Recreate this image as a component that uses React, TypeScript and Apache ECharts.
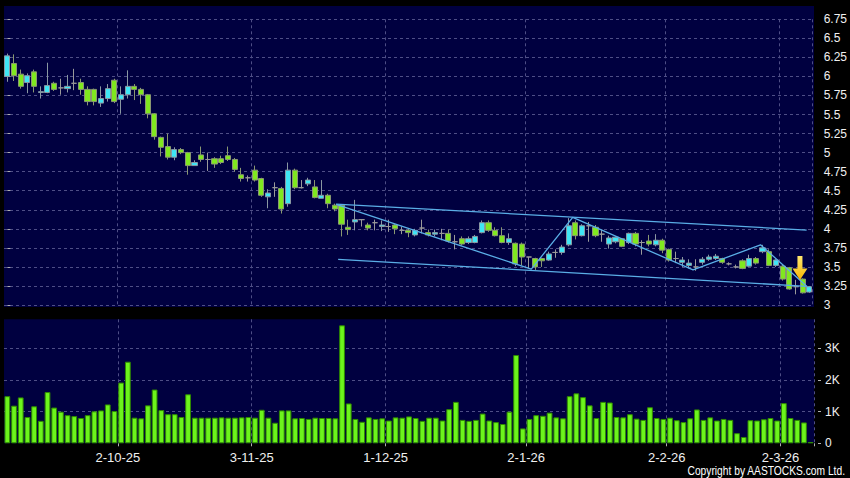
import React, { useEffect, useRef } from 'react';
import * as echarts from 'echarts';

// Trading days shown on the category axis (day numbers per month)
const sepDays = [8, 9, 10, 11, 12, 15, 16, 17, 18, 19, 22, 23, 24, 25, 26, 29, 30];
const octDays = [2, 3, 6, 8, 9, 10, 13, 14, 15, 16, 17, 20, 21, 22, 23, 24, 27, 28, 30, 31];
const novDays = [3, 4, 5, 6, 7, 10, 11, 12, 13, 14, 17, 18, 19, 20, 21, 24, 25, 26, 27, 28];
const decDays = [1, 2, 3, 4, 5, 8, 9, 10, 11, 12, 15, 16, 17, 18, 19, 22, 23, 24, 29, 30, 31];
const janDays = [2, 5, 6, 7, 8, 9, 12, 13, 14, 15, 16, 19, 20, 21, 22, 23, 26, 27, 28, 29, 30];
const febDays = [2, 3, 4, 5, 6, 9, 10, 11, 12, 13, 16, 20, 23, 24, 25, 26, 27];
const marDays = [2, 3, 4, 5, 6];
const months: [number[], number, number][] = [
  [sepDays, 9, 25], [octDays, 10, 25], [novDays, 11, 25], [decDays, 12, 25],
  [janDays, 1, 26], [febDays, 2, 26], [marDays, 3, 26],
];

const opens = [
  6.00, 6.17, 6.03, 5.92, 6.06, 5.79, 5.79, 5.91, 5.85, 5.84,
  5.91, 5.92, 5.83, 5.83, 5.65, 5.71, 5.95, 5.70, 5.76, 5.87,
  5.83, 5.76, 5.51, 5.20, 5.08, 4.94, 5.04, 5.00, 4.83, 4.97,
  4.91, 4.92, 4.92, 4.96, 4.91, 4.71, 4.67, 4.77, 4.66, 4.42,
  4.54, 4.53, 4.33, 4.77, 4.54, 4.59, 4.55, 4.40, 4.44, 4.31,
  4.31, 4.02, 4.09, 4.12, 4.05, 4.08, 4.03, 4.03, 4.05, 3.98,
  3.98, 3.92, 4.01, 3.95, 3.93, 3.94, 3.94, 3.83, 3.87, 3.82,
  3.82, 3.95, 4.08, 3.98, 3.91, 3.82, 3.81, 3.80, 3.63, 3.61,
  3.61, 3.59, 3.69, 3.69, 3.79, 4.08, 3.91, 4.04, 4.02, 3.93,
  3.80, 3.83, 3.87, 3.82, 3.94, 3.82, 3.84, 3.79, 3.85, 3.73,
  3.61, 3.56, 3.52, 3.50, 3.56, 3.60, 3.61, 3.61, 3.54, 3.50,
  3.58, 3.51, 3.61, 3.70, 3.70, 3.52, 3.51, 3.49, 3.24, 3.34,
  3.17,
];
const closes = [
  6.27, 6.01, 5.87, 6.01, 5.87, 5.80, 5.88, 5.83, 5.85, 5.87,
  5.91, 5.83, 5.67, 5.67, 5.71, 5.84, 5.67, 5.76, 5.87, 5.83,
  5.76, 5.51, 5.21, 5.07, 4.94, 5.04, 5.00, 4.83, 4.87, 4.91,
  4.91, 4.85, 4.87, 4.91, 4.78, 4.66, 4.67, 4.64, 4.44, 4.47,
  4.54, 4.26, 4.77, 4.54, 4.54, 4.64, 4.41, 4.44, 4.33, 4.26,
  4.06, 3.99, 4.12, 4.12, 4.01, 4.08, 4.05, 4.03, 4.00, 3.98,
  3.95, 3.98, 4.01, 3.92, 3.95, 3.94, 3.84, 3.83, 3.80, 3.87,
  3.90, 4.08, 3.98, 3.91, 3.82, 3.87, 3.54, 3.63, 3.63, 3.50,
  3.58, 3.67, 3.69, 3.76, 4.04, 3.91, 4.04, 4.04, 3.91, 3.93,
  3.88, 3.89, 3.77, 3.94, 3.80, 3.82, 3.80, 3.85, 3.72, 3.59,
  3.61, 3.59, 3.55, 3.50, 3.60, 3.63, 3.64, 3.56, 3.54, 3.50,
  3.48, 3.61, 3.55, 3.75, 3.52, 3.59, 3.34, 3.21, 3.24, 3.16,
  3.24,
];
const lows = [
  5.93, 5.94, 5.84, 5.78, 5.79, 5.71, 5.78, 5.81, 5.76, 5.79,
  5.82, 5.76, 5.62, 5.62, 5.60, 5.67, 5.65, 5.51, 5.71, 5.69,
  5.64, 5.45, 5.17, 4.95, 4.91, 4.90, 4.98, 4.71, 4.83, 4.88,
  4.76, 4.80, 4.85, 4.89, 4.75, 4.62, 4.62, 4.62, 4.42, 4.27,
  4.42, 4.20, 4.29, 4.52, 4.53, 4.56, 4.40, 4.40, 4.27, 4.23,
  3.90, 3.92, 3.98, 4.03, 3.98, 3.98, 3.97, 3.96, 3.93, 3.93,
  3.89, 3.90, 3.94, 3.90, 3.90, 3.85, 3.82, 3.73, 3.78, 3.80,
  3.81, 3.94, 3.96, 3.90, 3.81, 3.79, 3.51, 3.52, 3.48, 3.46,
  3.50, 3.58, 3.62, 3.66, 3.77, 3.86, 3.90, 3.83, 3.89, 3.83,
  3.74, 3.81, 3.76, 3.80, 3.77, 3.66, 3.77, 3.77, 3.68, 3.57,
  3.55, 3.50, 3.48, 3.45, 3.53, 3.58, 3.59, 3.54, 3.52, 3.48,
  3.47, 3.50, 3.53, 3.68, 3.51, 3.50, 3.32, 3.20, 3.14, 3.15,
  3.16,
];
const highs = [
  6.30, 6.29, 6.09, 6.04, 6.09, 5.87, 6.18, 5.93, 5.97, 6.02,
  6.10, 5.97, 5.87, 5.84, 5.87, 5.90, 5.97, 5.87, 6.08, 5.90,
  5.85, 5.77, 5.52, 5.21, 5.25, 5.07, 5.06, 5.01, 4.90, 5.08,
  5.00, 4.94, 4.96, 5.08, 4.93, 4.80, 4.70, 4.83, 4.67, 4.52,
  4.61, 4.55, 4.87, 4.79, 4.64, 4.67, 4.64, 4.64, 4.46, 4.33,
  4.32, 4.12, 4.38, 4.12, 4.08, 4.12, 4.11, 4.12, 4.06, 4.03,
  4.01, 4.00, 4.12, 3.99, 3.99, 4.00, 3.99, 3.92, 3.90, 3.90,
  3.92, 4.11, 4.11, 4.02, 4.02, 3.94, 3.82, 3.82, 3.63, 3.62,
  3.62, 3.70, 3.73, 3.79, 4.14, 4.11, 4.06, 4.09, 4.05, 3.99,
  3.91, 3.90, 3.88, 3.95, 3.96, 3.85, 3.92, 3.93, 3.87, 3.74,
  3.70, 3.63, 3.60, 3.60, 3.63, 3.66, 3.67, 3.62, 3.56, 3.53,
  3.60, 3.66, 3.63, 3.79, 3.73, 3.60, 3.53, 3.50, 3.33, 3.35,
  3.25,
];
const volumes = [
  1490, 1190, 1450, 830, 1170, 710, 1620, 1130, 1000, 890,
  860, 800, 890, 1010, 1040, 1230, 1020, 1920, 2580, 810,
  790, 1200, 1700, 1050, 920, 920, 830, 1550, 810, 810,
  810, 810, 820, 810, 810, 820, 830, 810, 1060, 810,
  650, 1040, 1040, 790, 800, 770, 810, 800, 800, 790,
  3730, 1260, 770, 680, 820, 770, 790, 720, 820, 810,
  850, 800, 710, 810, 810, 720, 1080, 1310, 740, 710,
  740, 940, 720, 670, 610, 1000, 2790, 470, 770, 890,
  870, 970, 820, 790, 1490, 1580, 1460, 1200, 800, 1310,
  1290, 830, 820, 920, 780, 740, 1140, 800, 770, 810,
  730, 670, 790, 1070, 740, 820, 720, 770, 740, 320,
  200, 730, 720, 760, 800, 720, 1270, 800, 740, 660,
  40,
];

// Trend lines (x in bar-index units, y in price)
const upperX = [49.2, 119.6];
const upperY = [4.325, 3.984];
const lowerX = [49.5, 119.6];
const lowerY = [3.60, 3.245];
const zigzagX = [49.2, 78.4, 84.6, 102.6, 112.7, 119.7];
const zigzagY = [4.32, 3.47, 4.15, 3.46, 3.79, 3.24];
const arrowX = [118.6];
const arrowY = [3.486];

const priceMin = 3;
const priceMax = 6.75;
const priceStep = 0.25;
const volMax = 3920;
const volStep = 1000;
const volTicks = [0, 1000, 2000, 3000];

const NAVY = '#000040';
const GRID_LINE = { color: '#4e4e86', type: [3, 3] as any, width: 1 };
const FONT = '"Liberation Sans", Arial, sans-serif';
const LINE_COLOR = '#5aaee6';

const categories: string[] = [];
const monthStartIdx: number[] = [];
months.forEach(([days, m, yy], mi) => {
  days.forEach((d, di) => {
    if (di === 0 && mi > 0) monthStartIdx.push(categories.length);
    categories.push(`${d}-${m}-${yy}`);
  });
});
const isMonthStart = (i: number) => monthStartIdx.indexOf(i) >= 0;

export default function App() {
  const ref = useRef<HTMLDivElement>(null);
  useEffect(() => {
    document.body.style.margin = '0';
    document.body.style.background = '#000';
    const chart = echarts.init(ref.current!, null, { renderer: 'svg' });
    const candles = opens.map((o, i) => [o, closes[i], lows[i], highs[i]]);
    const pair = (xs: number[], ys: number[]) => xs.map((x, i) => [x, ys[i]]);
    const trend = (name: string, xs: number[], ys: number[]) => ({
      name,
      type: 'line',
      xAxisIndex: 2,
      yAxisIndex: 0,
      data: pair(xs, ys),
      symbol: 'none',
      silent: true,
      lineStyle: { color: LINE_COLOR, width: 1.3 },
      z: 5,
    });
    chart.setOption({
      animation: false,
      backgroundColor: '#000',
      graphic: [
        {
          type: 'rect',
          z: -10,
          silent: true,
          shape: { x: 4, y: 6, width: 810, height: 301 },
          style: { fill: NAVY },
        },
        {
          type: 'text',
          x: 845,
          y: 471,
          scaleX: 0.82,
          silent: true,
          style: {
            text: 'Copyright by AASTOCKS.com Ltd.',
            fill: '#ffffff',
            font: '12.5px "Liberation Sans", Arial, sans-serif',
            textAlign: 'right',
            textVerticalAlign: 'middle',
          },
        },
      ],
      grid: [
        { left: 4, right: 36, top: 19.3, bottom: 173 },
        { left: 4, right: 36, top: 319.3, bottom: 34.7, show: true, backgroundColor: NAVY, borderWidth: 0 },
      ],
      xAxis: [
        {
          type: 'category',
          gridIndex: 0,
          data: categories,
          boundaryGap: true,
          axisLine: { show: false },
          axisTick: { show: false },
          axisLabel: { show: false },
          splitLine: { show: true, interval: (i: number) => isMonthStart(i), lineStyle: GRID_LINE },
        },
        {
          type: 'category',
          gridIndex: 1,
          data: categories,
          boundaryGap: true,
          offset: 3,
          axisLine: { show: false },
          axisTick: { show: true, interval: (i: number) => isMonthStart(i), length: 3, lineStyle: { color: '#b0b0b0' } },
          axisLabel: {
            interval: (i: number) => isMonthStart(i),
            color: '#f0f0f0',
            fontSize: 13,
            fontFamily: FONT,
            margin: 5,
            padding: [0, 6.7, 0, 0],
          },
          splitLine: { show: true, interval: (i: number) => isMonthStart(i), lineStyle: GRID_LINE },
        },
        { type: 'value', gridIndex: 0, min: -0.5, max: categories.length - 0.5, show: false },
      ],
      yAxis: [
        {
          type: 'value',
          gridIndex: 0,
          position: 'right',
          min: priceMin,
          max: priceMax,
          interval: priceStep,
          offset: 4,
          axisLine: { show: false },
          axisTick: { show: true, length: 3, lineStyle: { color: '#b0b0b0' } },
          axisLabel: {
            color: '#f0f0f0',
            fontSize: 12,
            fontFamily: FONT,
            margin: 7,
            formatter: (v: number) => String(+v.toFixed(2)),
          },
          splitLine: { show: true, lineStyle: GRID_LINE },
        },
        {
          type: 'value',
          gridIndex: 1,
          position: 'right',
          min: 0,
          max: volMax,
          interval: volStep,
          offset: 4,
          axisLine: { show: false },
          axisTick: { show: true, length: 3, customValues: volTicks, lineStyle: { color: '#b0b0b0' } },
          axisLabel: {
            color: '#f0f0f0',
            fontSize: 12,
            fontFamily: FONT,
            margin: 7,
            customValues: volTicks,
            formatter: (v: number) => (v === 0 ? '0' : v / 1000 + 'K'),
          },
          splitLine: { show: true, showMinLine: false, lineStyle: GRID_LINE },
        },
      ],
      series: [
        {
          type: 'candlestick',
          xAxisIndex: 0,
          yAxisIndex: 0,
          data: candles,
          barWidth: '84%',
          itemStyle: {
            color: '#3fe6f5',
            color0: '#80e81f',
            borderColor: '#8a98a2',
            borderColor0: '#8a9872',
            borderColorDoji: '#9a9a9a',
            borderWidth: 1,
          },
          z: 3,
        },
        {
          type: 'bar',
          xAxisIndex: 1,
          yAxisIndex: 1,
          data: volumes,
          barCategoryGap: '14%',
          itemStyle: { color: '#6cf41c', borderColor: '#2f8a00', borderWidth: 1 },
        },
        trend('upper', upperX, upperY),
        trend('lower', lowerX, lowerY),
        trend('zigzag', zigzagX, zigzagY),
        {
          type: 'scatter',
          xAxisIndex: 2,
          yAxisIndex: 0,
          data: pair(arrowX, arrowY),
          symbol: 'path://M5,0 L10,0 L10,12 L15,12 L7.5,23 L0,12 L5,12 Z',
          symbolSize: [15, 24],
          silent: true,
          itemStyle: {
            color: new echarts.graphic.LinearGradient(0, 0, 0, 1, [
              { offset: 0, color: '#ffe870' },
              { offset: 1, color: '#f7b500' },
            ]),
            opacity: 1,
          },
          z: 6,
        },
      ],
    });
    return () => chart.dispose();
  }, []);
  return <div ref={ref} style={{ width: 850, height: 478, background: '#000' }} />;
}
